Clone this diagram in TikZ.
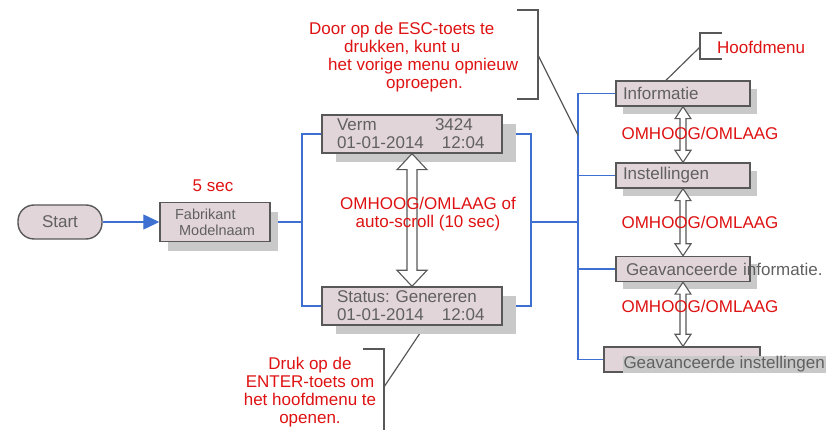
\documentclass[tikz,border=0pt]{standalone}
\usepackage{fontspec}
\setmainfont{Liberation Sans}
\usepackage{xcolor}
\usepackage{tikz}
\usetikzlibrary{arrows.meta,calc,shadows,backgrounds}
\definecolor{Ink}{RGB}{96,96,96}
\definecolor{Edge}{RGB}{88,88,88}
\definecolor{Panel}{RGB}{226,213,218}
\definecolor{Shade}{RGB}{200,201,200}
\definecolor{Wire}{RGB}{62,112,210}
\definecolor{Note}{RGB}{222,18,18}
\frenchspacing

\newcommand{\updown}[5]{%
  \draw[hollow] let \p1=(#1), \p2=(#2) in
    (\x1,\y1) -- (\x1+#4,\y1-#5) -- (\x1+#3,\y1-#5) -- (\x1+#3,\y2+#5) -- (\x1+#4,\y2+#5)
    -- (\x1,\y2) -- (\x1-#4,\y2+#5) -- (\x1-#3,\y2+#5) -- (\x1-#3,\y1-#5) -- (\x1-#4,\y1-#5) -- cycle;}

\begin{document}
\begin{tikzpicture}[x=1pt,y=-1pt,
  box/.style={draw=Edge,fill=Panel,line width=1.4pt,text=Ink,font=\fontsize{17}{18}\selectfont,inner ysep=1pt},
  pill/.style={box,rounded corners=16pt,minimum width=84pt,minimum height=34pt},
  fab/.style={box,minimum width=110pt,minimum height=39pt,align=left,font=\fontsize{14.5}{16}\selectfont,general shadow={fill=Shade,shadow xshift=8pt,shadow yshift=-10pt}},
  screen/.style={box,minimum width=180pt,minimum height=38pt,text width=150pt,align=left,general shadow={fill=Shade,shadow xshift=14pt,shadow yshift=-9pt}},
  menu/.style={box,minimum width=134pt,minimum height=25pt,text width=120pt,align=left,inner ysep=0pt},
  lifted/.style={general shadow={fill=Shade,shadow xshift=7pt,shadow yshift=-8pt}},
  strip/.style={fill=Shade,text=Ink,font=\fontsize{17}{18}\selectfont,inner xsep=1pt,inner ysep=0pt,minimum height=17pt,anchor=west},
  note/.style={text=Note,font=\fontsize{17}{18}\selectfont,align=center,inner sep=0pt},
  wire/.style={draw=Wire,line width=1.3pt},
  arrow/.style={wire,-{Triangle[length=16pt,width=15pt]}},
  callout/.style={draw=Edge,line width=1.2pt},
  hollow/.style={draw=Edge,fill=white,line width=1.1pt}
]
\useasboundingbox (0,0) rectangle (828,430);

\node[pill] (start) at (60,222) {Start};
\node[fab] (fab) at (215,222) {Fabrikant\\\hspace{4pt}Modelnaam};
\node[note] (delay) at (213,186) {5 sec};
\node[screen] (verm) at (412,134) {\makebox[98pt][l]{Verm}3424\\\makebox[105pt][l]{01-01-2014}12:04};
\node[screen] (status) at (412,306) {Status: Genereren\\\makebox[105pt][l]{01-01-2014}12:04};

\node[menu,lifted] (info) at (683,93.5) {Informatie};
\node[menu,lifted] (inst) at (683,175.5) {Instellingen};
\node[menu,lifted] (geinfo) at (683,269) {\makebox[0pt][l]{\hspace{3pt}Geavanceerde informatie.}};
\node[menu,minimum width=156pt] (geinst) at (682,359.5) {};
\node[strip] (geinstlabel) at ([xshift=19pt,yshift=-5pt]geinst.west) {Geavanceerde instellingen};

\coordinate (lsplit) at (302,222);
\coordinate (rsplit) at (531,222);
\coordinate (bus) at (578,222);
\coordinate (escfoot) at (538,55);
\coordinate (escbus) at (578,135);
\coordinate (enterfoot) at (384,387);
\coordinate (menufoot) at (700,47);

\begin{scope}[on background layer]
\draw[wire] (fab.east) -- (lsplit);
\draw[wire] (verm.west) -| (lsplit) |- (status.west);
\draw[wire] (verm.east) -| (rsplit) |- (status.east);
\draw[wire] (rsplit) -- (bus);
\draw[wire] (info.west) -| (bus) |- (geinst.west);
\draw[wire] (inst.west) -- (inst.west -| bus);
\draw[wire] (geinfo.west) -- (geinfo.west -| bus);
\draw[callout] (enterfoot) -- ([xshift=13pt]status.south);
\end{scope}

\draw[arrow] (start.east) -- (fab.west);

\updown{verm.south}{status.north}{5pt}{15pt}{16pt}
\updown{info.south}{inst.north}{3pt}{8pt}{12pt}
\updown{inst.south}{geinfo.north}{3pt}{8pt}{12pt}
\updown{geinfo.south}{geinst.north}{3pt}{8pt}{12pt}

\node[note] (scroll) at (428,214) {OMHOOG/OMLAAG of\\auto-scroll (10 sec)};
\node[note] (step1) at (700,133) {OMHOOG/OMLAAG};
\node[note] (step2) at (700,222) {OMHOOG/OMLAAG};
\node[note] (step3) at (700,306) {OMHOOG/OMLAAG};

\node[note,align=left,anchor=west] (esc) at (309,57.5) {Door op de ESC-toets te\\\hspace{35pt}drukken, kunt u\\\hspace{19pt}het vorige menu opnieuw\\\hspace{77pt}oproepen.};
\draw[callout] (517,10) -| (538,99) -- (517,99);
\draw[callout] (escfoot) -- (escbus);

\node[note,anchor=west] (mainmenu) at (717,47) {Hoofdmenu};
\draw[callout] (722,33) -| (700,59) -- (722,59);
\draw[callout] (menufoot) -- ([xshift=-17pt]info.north);

\node[note] (enter) at (310,392) {Druk op de\\ENTER-toets om\\het hoofdmenu te\\openen.};
\draw[callout] (363,349) -| (384,432);
\end{tikzpicture}
\end{document}
